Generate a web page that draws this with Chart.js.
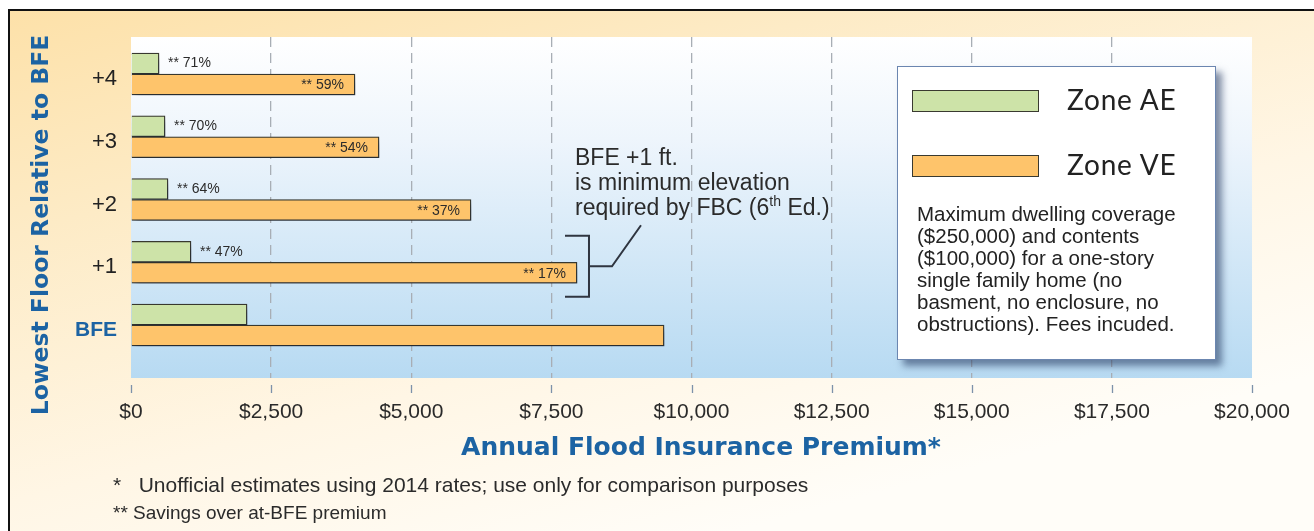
<!DOCTYPE html>
<html>
<head>
<meta charset="utf-8">
<script src="https://cdn.jsdelivr.net/npm/chart.js@4.4.1/dist/chart.umd.min.js"></script>
<style>
  body { margin: 0; background: #fff; }
  #wrap { position: relative; width: 1314px; height: 531px; overflow: hidden; }
  #frame {
    position: absolute; left: 8px; top: 9px; width: 1320px; height: 540px;
    border-left: 2px solid #111; border-top: 2px solid #111;
    background: linear-gradient(165deg, #fde1a9 0%, #fdebc6 25%, #fff6e5 55%, #fffdf8 80%);
  }
  #chart { position: absolute; left: 0; top: 0; }
  .txt { position: absolute; font-family: "Liberation Sans", Arial, sans-serif; color: #2b2b2b; white-space: pre; }
  #note { left: 575px; top: 145px; font-size: 23px; line-height: 25px; }
  #note sup { font-size: 14px; vertical-align: 9px; line-height: 0; }
  #foot1 { left: 113px; top: 471px; font-size: 21px; line-height: 27px; }
  #foot2 { left: 113px; top: 499px; font-size: 19px; line-height: 27px; }
  #legend {
    position: absolute; left: 897px; top: 66px; width: 317px; height: 292px;
    background: #fff; border: 1.5px solid #6b86b0;
    box-shadow: 6px 6px 7px rgba(30, 50, 90, 0.55);
  }
  .row { position: absolute; left: 14px; height: 22px; }
  .sw { position: absolute; left: 0; top: 0; width: 125px; height: 20px; border: 1.3px solid #3a3a30; }
  .lab { position: absolute; left: 155px; top: -8px; font-family: Lato, sans-serif; font-size: 28px; letter-spacing: 0.8px; color: #222; white-space: nowrap; }
  #desc { position: absolute; left: 19px; top: 136px; font-family: "Liberation Sans", Arial, sans-serif; font-size: 20.5px; line-height: 22px; color: #222; }
</style>
</head>
<body>
<div id="wrap">
  <div id="frame"></div>
  <canvas id="chart" width="1314" height="531"></canvas>
  <div id="note" class="txt">BFE +1 ft.
is minimum elevation
required by FBC (6<sup>th</sup> Ed.)</div>
  <div id="foot1" class="txt">*   Unofficial estimates using 2014 rates; use only for comparison purposes</div>
  <div id="foot2" class="txt">** Savings over at-BFE premium</div>
  <div id="legend"><div id="desc">Maximum dwelling coverage<br>($250,000) and contents<br>($100,000) for a one-story<br>single family home (no<br>basment, no enclosure, no<br>obstructions). Fees incuded.</div></div>
</div>
<script>
const floorLabels = ['+4', '+3', '+2', '+1', 'BFE'];
const floorLevels = [4, 3, 2, 1, 0];
const zoneAE = [500, 607, 660, 1070, 2070];
const zoneVE = [3996, 4425, 6066, 7957, 9510];
const savingsAE = ['71%', '70%', '64%', '47%', ''];
const savingsVE = ['59%', '54%', '37%', '17%', ''];
const xTicks = [0, 2500, 5000, 7500, 10000, 12500, 15000, 17500, 20000];

const blue = '#1c63a3';
const titleFont = '"DejaVu Sans", sans-serif';

const datasets = [
    {
        label: 'Zone AE',
        data: zoneAE.map((v, i) => ({ x: v, y: floorLevels[i] })),
        backgroundColor: '#cde3a8',
        borderColor: '#3a3a30',
        borderWidth: 1.3,
        barThickness: 21,
        savings: savingsAE
    },
    {
        label: 'Zone VE',
        data: zoneVE.map((v, i) => ({ x: v, y: floorLevels[i] })),
        backgroundColor: '#fec46b',
        borderColor: '#3a3a30',
        borderWidth: 1.3,
        barThickness: 21,
        savings: savingsVE
    }
];

// legend swatches
const legendBox = document.getElementById('legend');
datasets.forEach((ds, i) => {
    const row = document.createElement('div');
    row.className = 'row';
    row.style.top = (23 + i * 65) + 'px';
    row.innerHTML = '<div class="sw" style="background:' + ds.backgroundColor + '"></div><div class="lab">' + ds.label + '</div>';
    legendBox.appendChild(row);
});

const isBFE = c => !!(c && c.tick && c.tick.value === 0);

const decor = {
    id: 'decor',
    beforeDraw(chart) {
        const { ctx, chartArea: a } = chart;
        const g = ctx.createLinearGradient(0, a.top, 0, a.bottom);
        g.addColorStop(0, '#ffffff');
        g.addColorStop(0.3, '#eef5fc');
        g.addColorStop(1, '#b7daf2');
        ctx.save();
        ctx.fillStyle = g;
        ctx.fillRect(a.left, a.top, a.right - a.left, a.bottom - a.top);
        ctx.restore();
    },
    beforeDatasetsDraw(chart) {
        const ctx = chart.ctx;
        ctx.save();
        ctx.shadowColor = 'rgba(20, 30, 50, 0.5)';
        ctx.shadowOffsetX = 3;
        ctx.shadowOffsetY = 5;
        ctx.shadowBlur = 7;
    },
    afterDatasetsDraw(chart) {
        const ctx = chart.ctx;
        ctx.restore();

        // savings labels
        ctx.save();
        ctx.font = '14px "Liberation Sans", Arial, sans-serif';
        ctx.fillStyle = '#2b2b2b';
        ctx.textBaseline = 'middle';
        chart.data.datasets.forEach((ds, di) => {
            const meta = chart.getDatasetMeta(di);
            meta.data.forEach((bar, i) => {
                if (!ds.savings[i]) return;
                const t = '** ' + ds.savings[i];
                if (di === 0) {
                    ctx.textAlign = 'left';
                    ctx.fillText(t, bar.x + 9, bar.y);
                } else {
                    ctx.textAlign = 'right';
                    ctx.fillText(t, bar.x - 11, bar.y + 1);
                }
            });
        });

        // bracket around the +1 ft. bars
        const i1 = floorLabels.indexOf('+1');
        const ae = chart.getDatasetMeta(0).data[i1];
        const ve = chart.getDatasetMeta(1).data[i1];
        const top = ae.y - 16, bot = ve.y + 24, bx = ve.x + 12;
        const mid = (top + bot) / 2;
        ctx.strokeStyle = '#2f3540';
        ctx.lineWidth = 2;
        ctx.beginPath();
        ctx.moveTo(ve.x - 12, top);
        ctx.lineTo(bx, top);
        ctx.lineTo(bx, bot);
        ctx.lineTo(ve.x - 12, bot);
        ctx.moveTo(bx, mid);
        ctx.lineTo(bx + 23, mid);
        ctx.lineTo(bx + 52, mid - 41);
        ctx.stroke();

        // x tick marks, set a little below the plot
        const xs = chart.scales.x;
        ctx.strokeStyle = '#7d92aa';
        ctx.lineWidth = 1.3;
        ctx.beginPath();
        xs.ticks.forEach(t => {
            const x = Math.round(xs.getPixelForValue(t.value)) + 0.5;
            ctx.moveTo(x, chart.chartArea.bottom + 7);
            ctx.lineTo(x, chart.chartArea.bottom + 15);
        });
        ctx.stroke();

        // axis titles
        ctx.fillStyle = blue;
        ctx.textAlign = 'center';
        ctx.textBaseline = 'middle';
        ctx.font = 'bold 25px ' + titleFont;
        ctx.fillText('Annual Flood Insurance Premium*', 701, 448);
        ctx.translate(42, 225);
        ctx.rotate(-Math.PI / 2);
        ctx.font = 'bold 23.5px ' + titleFont;
        ctx.fillText('Lowest Floor Relative to BFE', 0, 0);
        ctx.restore();
    }
};

new Chart(document.getElementById('chart'), {
    type: 'bar',
    data: { datasets: datasets },
    options: {
        indexAxis: 'y',
        responsive: false,
        animation: false,
        layout: { padding: { left: 0, top: 37, right: 62, bottom: 0 } },
        plugins: {
            legend: { display: false },
            tooltip: { enabled: false }
        },
        scales: {
            x: {
                type: 'linear',
                min: 0,
                max: 20000,
                afterBuildTicks: s => { s.ticks = xTicks.map(v => ({ value: v })); },
                afterFit: s => { s.height = 153; },
                border: { display: false, dash: [10, 6] },
                grid: {
                    drawTicks: false,
                    color: c => (c.tick && (c.tick.value === 0 || c.tick.value === 20000)) ? 'rgba(0,0,0,0)' : '#a8aeb5',
                    lineWidth: 1.3
                },
                ticks: {
                    padding: 22,
                    color: '#2a2a2a',
                    font: { family: '"Liberation Sans", Arial, sans-serif', size: 21 },
                    callback: v => '$' + v.toLocaleString('en-US')
                }
            },
            y: {
                type: 'linear',
                offset: false,
                min: -0.844,
                max: 4.59,
                afterBuildTicks: s => { s.ticks = floorLevels.map(v => ({ value: v })); },
                afterFit: s => { s.width = 131; },
                border: { display: false },
                grid: { display: false, drawTicks: false },
                ticks: {
                    padding: 14,
                    labelOffset: 5,
                    color: c => isBFE(c) ? blue : '#222',
                    font: c => isBFE(c)
                        ? { family: '"Liberation Sans", Arial, sans-serif', size: 21, weight: 'bold' }
                        : { family: '"Liberation Sans", Arial, sans-serif', size: 22 },
                    callback: v => floorLabels[floorLevels.indexOf(v)]
                }
            }
        }
    },
    plugins: [decor]
});
</script>
</body>
</html>
